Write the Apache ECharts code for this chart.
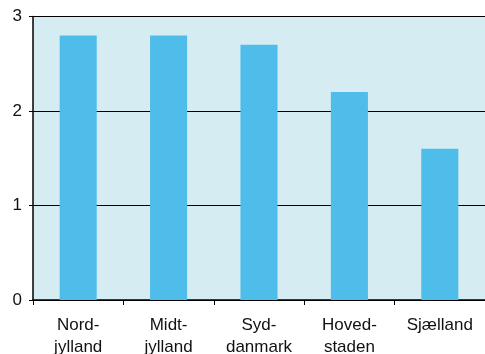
<!DOCTYPE html>
<html>
<head>
<meta charset="utf-8">
<script src="https://cdn.jsdelivr.net/npm/echarts@6/dist/echarts.min.js"></script>
<style>
  html, body { margin: 0; padding: 0; background: #fff; }
  #chart { width: 485px; height: 354px; }
</style>
</head>
<body>
<div id="chart"></div>
<script>
// Regions (two-line labels) and their values
const regions = ['Nord-\njylland', 'Midt-\njylland', 'Syd-\ndanmark', 'Hoved-\nstaden', 'Sjælland'];
const values = [2.8, 2.8, 2.7, 2.2, 1.6];
const yTicks = [0, 1, 2, 3];

const chart = echarts.init(document.getElementById('chart'), null, { renderer: 'canvas' });
chart.setOption({
  animation: false,
  grid: {
    left: 33, right: 0, top: 16.5, bottom: 54,
    outerBoundsMode: 'none', containLabel: false,
    show: true, backgroundColor: '#d5ecf2', borderWidth: 0
  },
  xAxis: {
    type: 'category',
    data: regions,
    axisLine: { lineStyle: { color: '#000', width: 1.5 } },
    axisTick: { show: true, length: 5, lineStyle: { color: '#000', width: 1 } },
    axisLabel: {
      color: '#111', fontFamily: 'Liberation Sans, Arial, sans-serif',
      fontSize: 17, lineHeight: 22, margin: 14, interval: 0
    }
  },
  yAxis: {
    type: 'value',
    min: yTicks[0], max: yTicks[yTicks.length - 1], interval: 1,
    axisLine: { show: true, lineStyle: { color: '#000', width: 1.5 } },
    axisTick: { show: true, length: 4, lineStyle: { color: '#000', width: 1 } },
    axisLabel: {
      color: '#111', fontFamily: 'Liberation Sans, Arial, sans-serif',
      fontSize: 17, margin: 11
    },
    splitLine: { show: true, lineStyle: { color: '#000', width: 1.2 } }
  },
  series: [{
    type: 'bar',
    data: values,
    barWidth: '41%',
    itemStyle: { color: '#4fbde9' }
  }]
});
</script>
</body>
</html>
